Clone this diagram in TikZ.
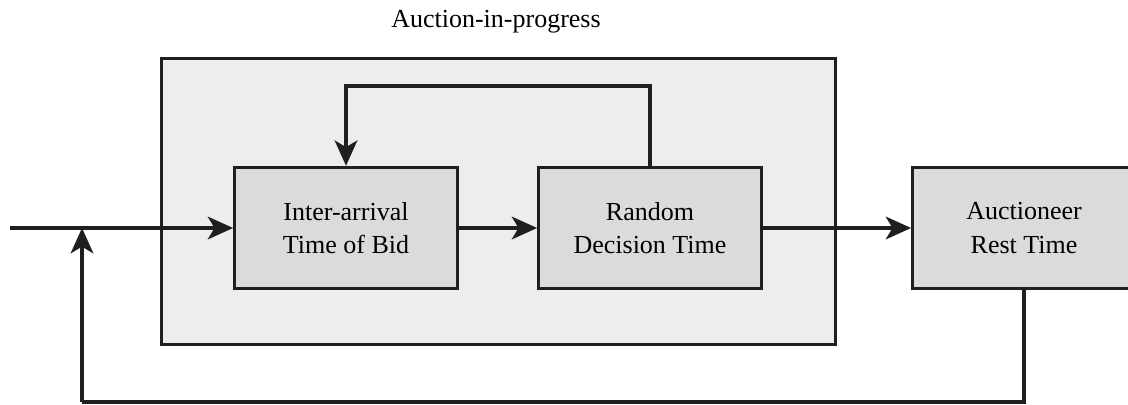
\documentclass[tikz,border=0pt]{standalone}
\usepackage{fontspec}
\setmainfont{Liberation Serif}
\usetikzlibrary{arrows.meta}

\tikzset{
    stagebox/.style={draw=black!88, fill=black!7},
    timebox/.style={draw=black!88, fill=black!14,
        minimum width=167pt, minimum height=91pt, align=center,
        font=\fontsize{19.5}{25}\selectfont},
    flow/.style={draw=black!88,
        -{Stealth[length=19pt, width=17pt, inset=5pt]}},
    link/.style={draw=black!88}
}

\begin{document}
\begin{tikzpicture}[x=0.75pt, y=-0.75pt, line width=2.3pt]
    \useasboundingbox (0,0) rectangle (1128,404);

    % Auction-in-progress stage
    \node[stagebox, minimum width=506pt, minimum height=215pt] (stage) at (498.5,201.5) {};
    \node[font=\fontsize{19.5}{25}\selectfont] (title) at (496,22) {Auction-in-progress};

    % Timers
    \node[timebox] (bid) at (346,228) {Inter-arrival\\Time of Bid};
    \node[timebox] (decide) at (650,228) {Random\\Decision Time};
    \node[timebox] (rest) at (1024,228) {Auctioneer\\Rest Time};

    \coordinate (start) at (10,228);
    \coordinate (loop) at (0,86);
    \coordinate (back) at (82,402);

    % Flow
    \draw[flow] (start) -- (bid.west);
    \draw[flow] (bid) -- (decide);
    \draw[flow] (decide) -- (rest);
    \draw[flow] (decide.north) -- (decide.north |- loop) -| (bid.north);
    \draw[link] (rest.south) |- (back);
    \draw[flow] (back) -- (back |- start);
\end{tikzpicture}
\end{document}
